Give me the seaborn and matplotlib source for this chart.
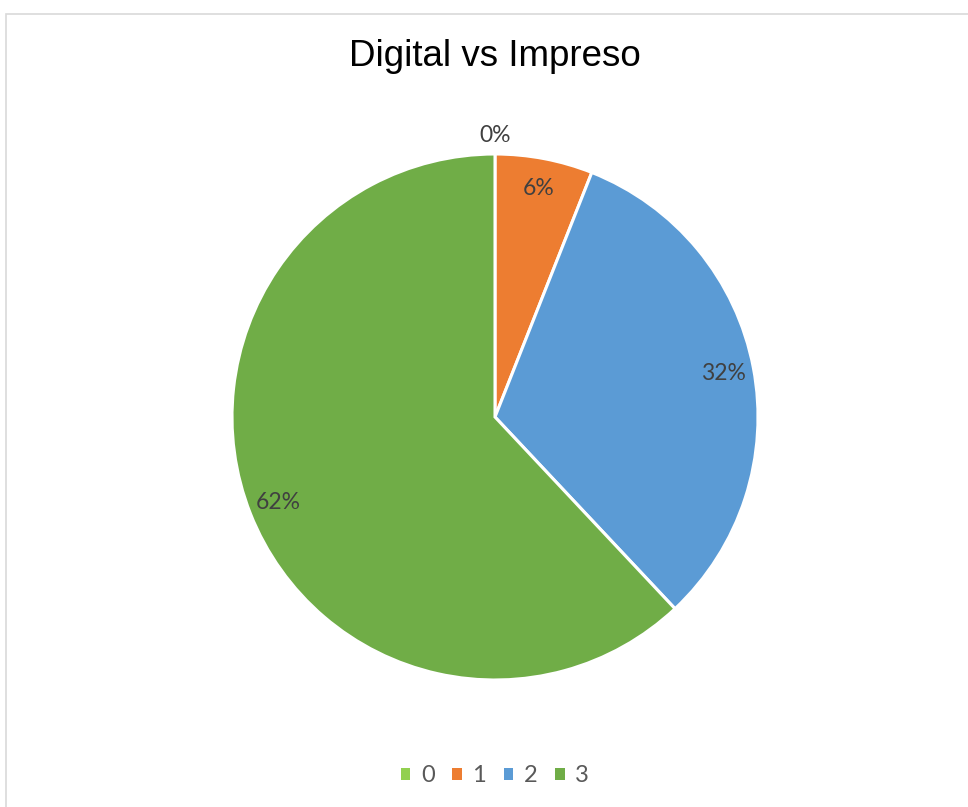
import numpy as np
import seaborn as sns
import matplotlib.pyplot as plt
from matplotlib.patches import Rectangle

sns.set_theme(style="white")

# data
categories = ["0", "1", "2", "3"]
values = [0, 6, 32, 62]
colors = sns.color_palette(["#92D050", "#ED7D31", "#5B9BD5", "#70AD47"])
title = "Digital vs Impreso"

W, H = 968, 807
fig = plt.figure(figsize=(W / 100, H / 100), dpi=100)

# pie area: center (495, 417), radius 263 px
cx, cy, r = 495, 417, 263
ax = fig.add_axes([(cx - r) / W, (H - cy - r) / H, 2 * r / W, 2 * r / H])

wedges, texts, autotexts = ax.pie(
    values, colors=colors, startangle=90, counterclock=False,
    autopct=lambda p: f"{p:.0f}%", pctdistance=0.885,
    wedgeprops=dict(edgecolor="white", linewidth=2.2),
    textprops=dict(fontsize=16.5, color="#404040", family=["Lato", "DejaVu Sans"]),
)
# zero slice label sits just outside the rim
autotexts[0].set_position((0, 1.07))
ax.set_xlim(-1, 1)
ax.set_ylim(-1, 1)
ax.set_aspect("equal")
ax.axis("off")

fig.text(cx / W, 1 - 57 / H, title, ha="center", va="center",
         fontsize=26.5, color="black", family=["Liberation Sans", "DejaVu Sans"])

leg = fig.legend(wedges, categories, loc="center", bbox_to_anchor=(cx / W, 1 - 776 / H),
                 ncol=4, frameon=False, handlelength=0.4, handleheight=0.4,
                 handletextpad=0.45, columnspacing=0.75,
                 prop=dict(family=["Lato", "DejaVu Sans"], size=17), labelcolor="#595959")
for h in leg.legend_handles:
    h.set_edgecolor("none")
    h.set_linewidth(0)

# outer chart frame
fig.patches.append(Rectangle((5.5 / W, -0.01), 1.02, (H - 13.5) / H + 0.01,
                             transform=fig.transFigure, fill=False,
                             edgecolor="#d9d9d9", linewidth=1.2))

fig.savefig("out.png", dpi=100, facecolor="white")
